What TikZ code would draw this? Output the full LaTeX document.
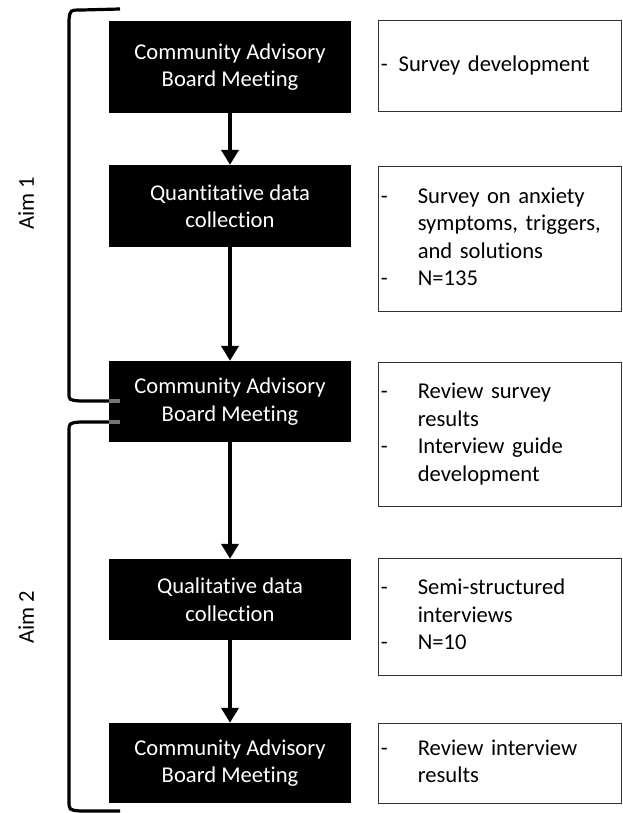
\documentclass[tikz,border=0pt]{standalone}
\usepackage{fontspec}
\setmainfont{Carlito}[Ligatures=NoCommon]
\usetikzlibrary{arrows.meta}
\tikzstyle{stage} = [fill=black,text=white,minimum width=242pt,align=center,inner sep=0pt]
\tikzstyle{note} = [draw=black!80,line width=1.2pt,minimum width=243pt,text width=239pt,align=left,inner xsep=2pt,inner ysep=0pt,anchor=north west]
\tikzstyle{flow} = [line width=4.5pt,-{Triangle[width=17pt,length=15pt]}]
\tikzstyle{aim} = [line width=3.2pt]
\newcommand{\dashlist}[1]{\begin{tabular}{@{}p{37pt}@{}l@{}}#1\end{tabular}}

\begin{document}
\begin{tikzpicture}[x=1pt,y=-1pt,font=\fontsize{22.6}{27.5}\selectfont]
  \useasboundingbox (0,0) rectangle (623,813);

  \draw[aim] (120,9) -- (82,10) .. controls (70,10) .. (69,20) -- (69,393)
    .. controls (69,400) .. (80,401) -- (120,401);
  \draw[aim] (120,422) -- (80,422) .. controls (69,423) .. (69,432) -- (69,800)
    .. controls (69,810) .. (80,811) -- (120,811);

  \node[stage,minimum height=92pt] (b1) at (230,67)    {Community Advisory\\Board Meeting};
  \node[stage,minimum height=82pt] (b2) at (230,206)   {Quantitative data\\collection};
  \node[stage,minimum height=81pt] (b3) at (230,401.5) {Community Advisory\\Board Meeting};
  \node[stage,minimum height=81pt] (b4) at (230,599.5) {Qualitative data\\collection};
  \node[stage,minimum height=80pt] (b5) at (230,763)   {Community Advisory\\Board Meeting};

  \draw[aim,black!55] (b3.west |- 0,401) -- ++(11,0);
  \draw[aim,black!55] (b3.west |- 0,422) -- ++(11,0);

  \node[note,minimum height=91pt]  (n1) at ([xshift=27pt,yshift=1pt]b1.north east) {-\hspace{11pt}Survey development};
  \node[note,minimum height=145pt] (n2) at ([xshift=27pt,yshift=-1pt]b2.north east)
    {\dashlist{- & Survey on anxiety\\ & symptoms, triggers,\\ & and solutions\\ - & N=135}};
  \node[note,minimum height=144pt] (n3) at ([xshift=27pt,yshift=-1pt]b3.north east)
    {\dashlist{- & Review survey\\ & results\\ - & Interview guide\\ & development}};
  \node[note,minimum height=117pt] (n4) at ([xshift=27pt,yshift=1pt]b4.north east)
    {\dashlist{- & Semi-structured\\ & interviews\\ - & N=10}};
  \node[note,minimum height=80pt]  (n5) at ([xshift=27pt]b5.north east)
    {\dashlist{- & Review interview\\ & results}};

  \draw[flow] (b1) -- (b2);
  \draw[flow] (b2) -- (b3);
  \draw[flow] (b3) -- (b4);
  \draw[flow] (b4) -- (b5);

  \node[rotate=90] (aim1) at (26,203) {Aim 1};
  \node[rotate=90] (aim2) at (26,617) {Aim 2};
\end{tikzpicture}
\end{document}
